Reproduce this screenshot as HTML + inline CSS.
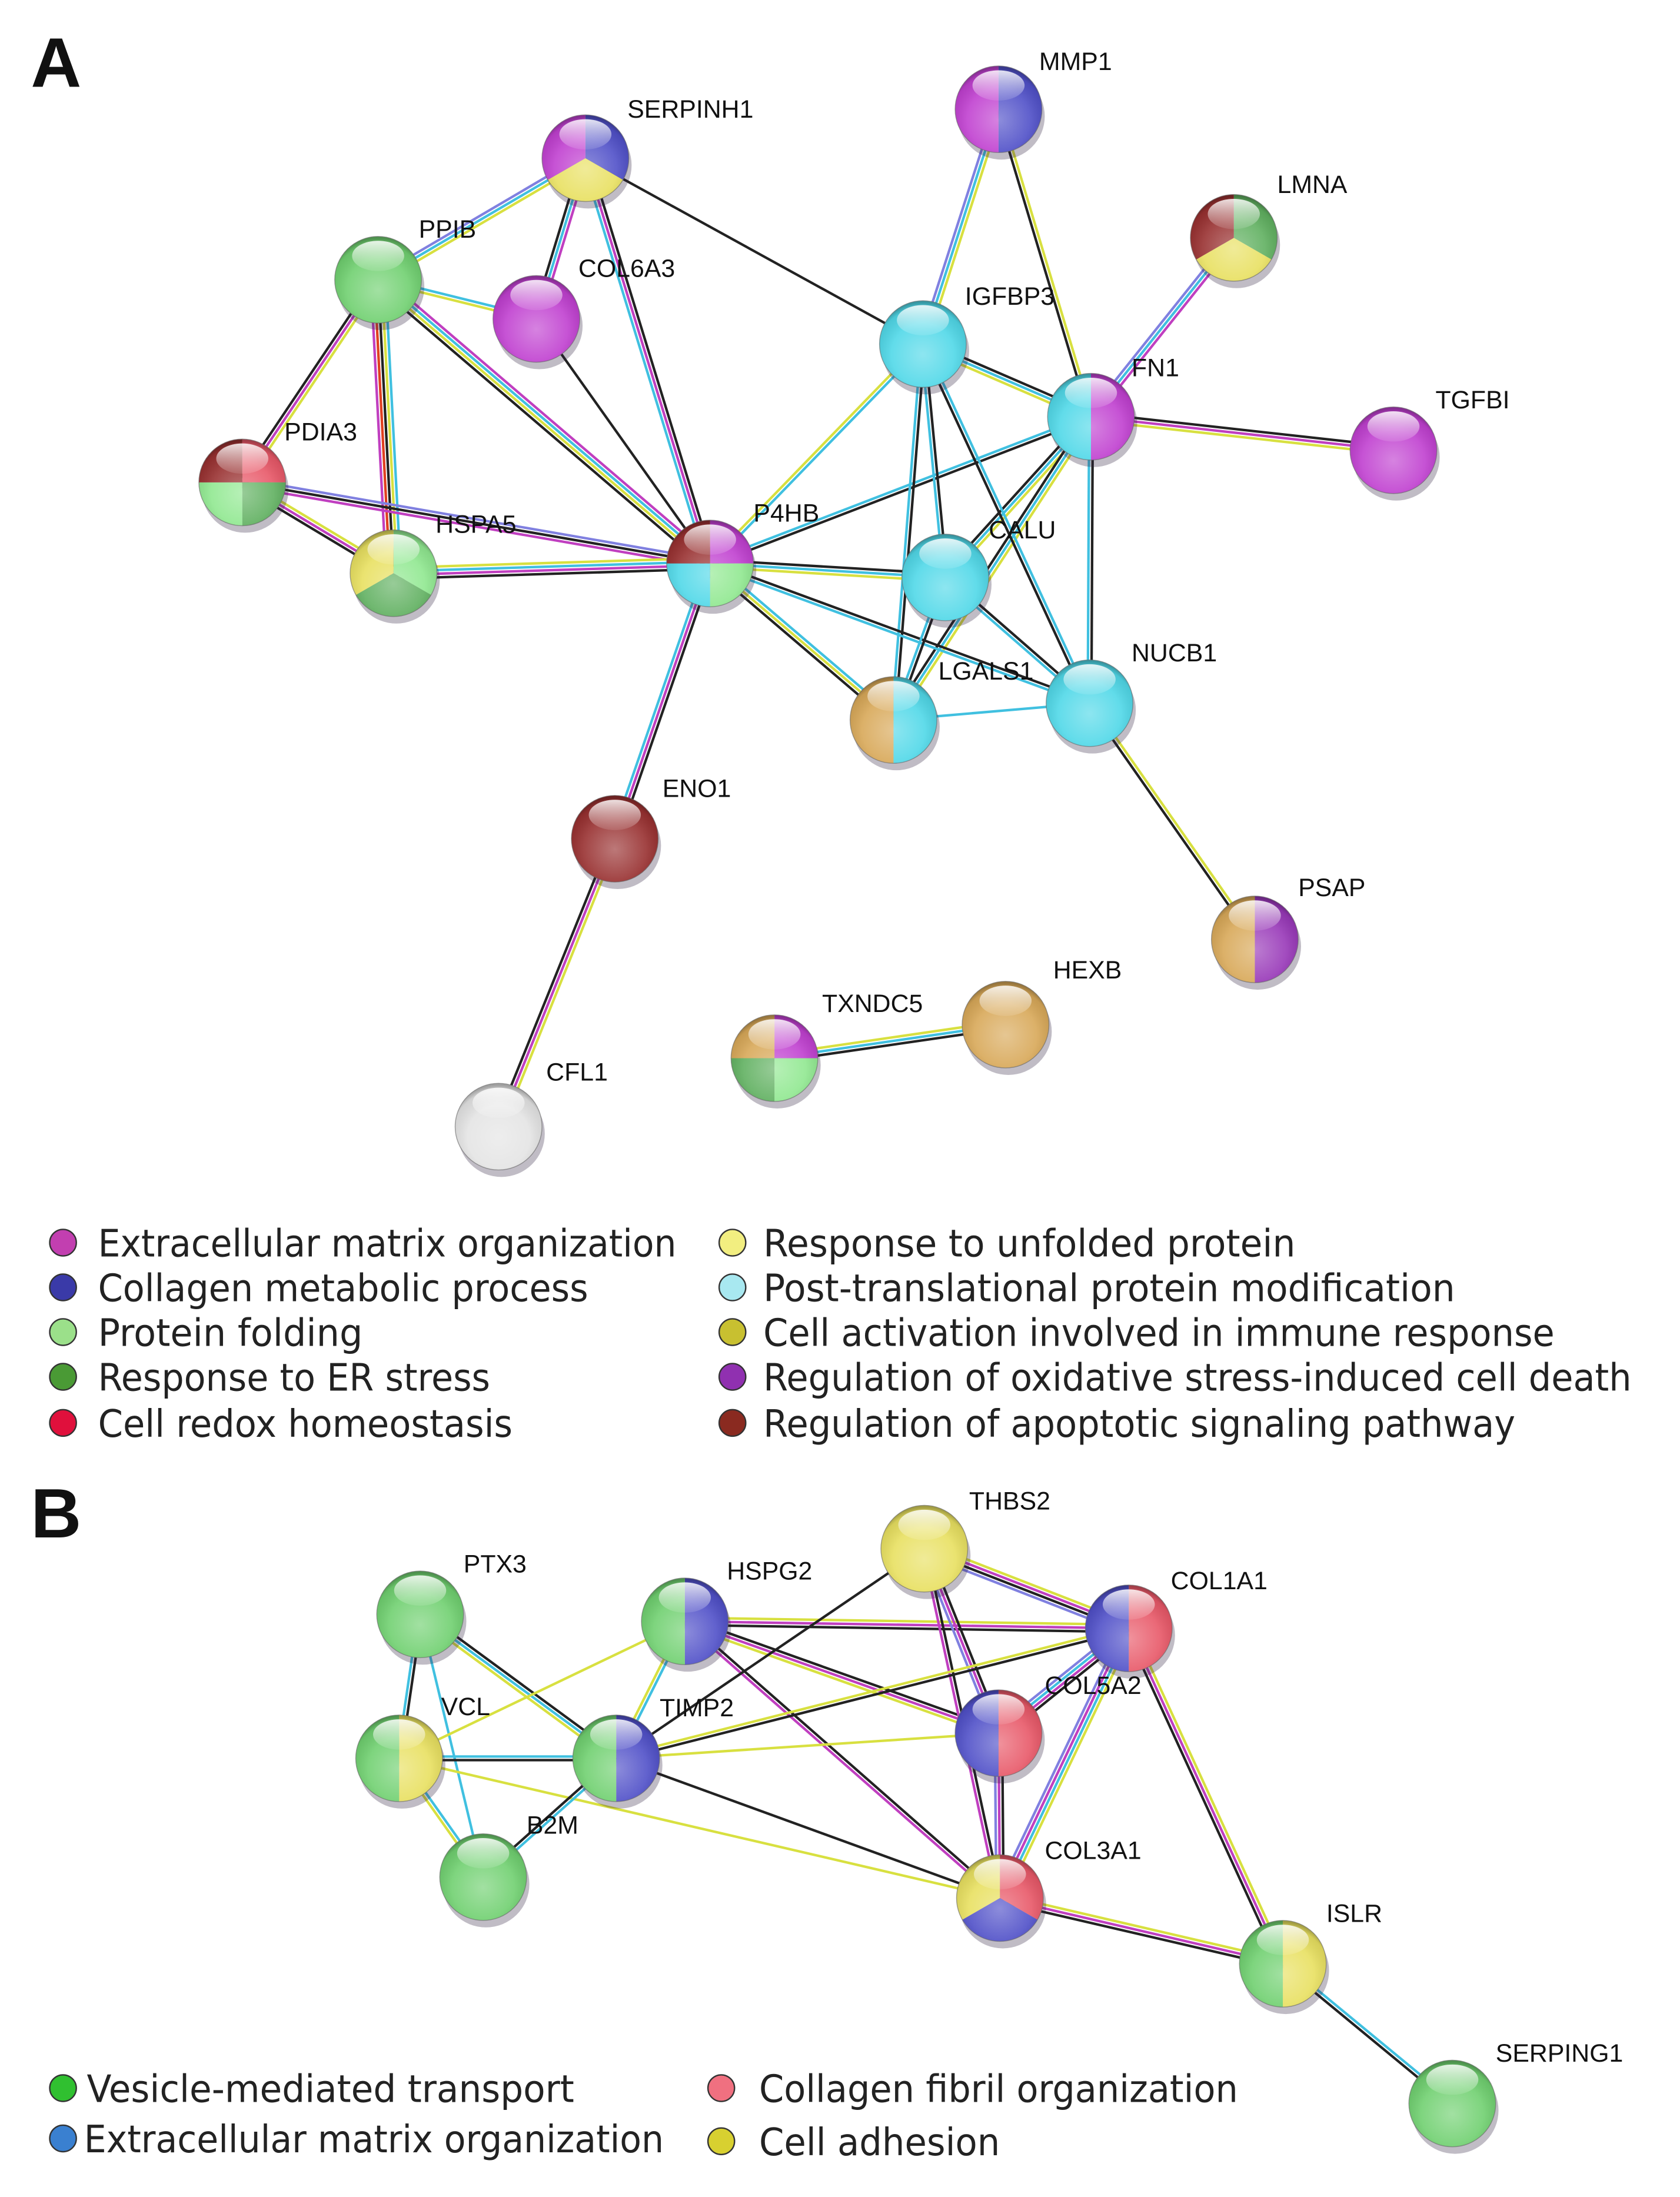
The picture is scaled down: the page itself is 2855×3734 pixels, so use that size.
<!DOCTYPE html>
<html><head><meta charset="utf-8">
<style>html,body{margin:0;padding:0;background:#fff;}svg{display:block}</style>
</head><body>
<svg id="s" xmlns="http://www.w3.org/2000/svg" width="2855" height="3734" viewBox="0 0 1190 1556">
<defs>
<radialGradient id="hl" cx="0.5" cy="0.62" r="0.6">
<stop offset="0" stop-color="#fff" stop-opacity="0.35"/>
<stop offset="0.6" stop-color="#fff" stop-opacity="0.1"/>
<stop offset="0.9" stop-color="#000" stop-opacity="0.08"/>
<stop offset="1" stop-color="#000" stop-opacity="0.3"/>
</radialGradient>
<linearGradient id="gl" x1="0" y1="0" x2="0" y2="1">
<stop offset="0" stop-color="#fff" stop-opacity="0.85"/>
<stop offset="1" stop-color="#fff" stop-opacity="0.1"/>
</linearGradient>
</defs>
<rect width="1190" height="1556" fill="#fff"/>
<g transform="scale(0.992,0.99)">
<g id="edges"></g><g id="nodes"></g>
<g font-family="Liberation Sans, Arial, sans-serif" font-weight="bold" font-size="50" fill="#111">
<text x="22" y="62">A</text><text x="22" y="1100">B</text></g>
<g id="legend" font-family="DejaVu Sans, Liberation Sans, sans-serif" font-size="27" fill="#222"></g>
</g>
</svg>
<script>
const C={k:'#222',m:'#c03fc0',c:'#40c0e0',y:'#d8e040',b:'#8080e0',r:'#e04020',g:'#40a040'};
const F={mag:'#c040d0',blu:'#5050c8',yel:'#e8e060',lg:'#90e890',grn:'#60b060',red:'#e85868',dr:'#983030',cy:'#50d8e8',tan:'#d8a858',pur:'#9838b8',wh:'#e4e4e4',gr2:'#70d070'};
const N={
SERPINH1:[418,113,['blu','yel','mag'],448,84],MMP1:[713,78,['blu','mag'],742,50],LMNA:[881,170,['grn','yel','dr'],912,138],
PPIB:[270,200,['gr2'],299,170],COL6A3:[383,228,['mag'],413,198],IGFBP3:[659,246,['cy'],689,218],FN1:[779,298,['mag','cy'],808,269],
TGFBI:[995,322,['mag'],1025,292],PDIA3:[173,345,['red','grn','lg','dr'],203,315],HSPA5:[281,410,['lg','grn','yel'],311,381],
P4HB:[507,403,['mag','lg','cy','dr'],538,373],CALU:[675,413,['cy'],706,385],NUCB1:[778,503,['cy'],808,473],
LGALS1:[638,515,['cy','tan'],670,486],ENO1:[439,600,['dr'],473,570],PSAP:[896,672,['pur','tan'],927,641],
HEXB:[718,733,['tan'],752,700],TXNDC5:[553,757,['mag','lg','grn','tan'],587,724],CFL1:[356,806,['wh'],390,773],
PTX3:[300,1155,['gr2'],331,1125],HSPG2:[489,1160,['blu','gr2'],519,1130],THBS2:[660,1108,['yel'],692,1080],
COL1A1:[806,1165,['red','blu'],836,1137],COL5A2:[713,1240,['red','blu'],746,1212],VCL:[285,1258,['yel','gr2'],315,1227],
TIMP2:[440,1258,['blu','gr2'],471,1228],B2M:[345,1343,['gr2'],376,1312],COL3A1:[714,1358,['red','blu','yel'],746,1330],
ISLR:[916,1405,['yel','gr2'],947,1375],SERPING1:[1037,1505,['gr2'],1068,1475]};
const E=[
['SERPINH1','COL6A3','mck'],['SERPINH1','PPIB','ycb'],['SERPINH1','P4HB','kmc'],['SERPINH1','IGFBP3','k'],
['PPIB','COL6A3','cy'],['PPIB','PDIA3','ymk'],['PPIB','HSPA5','cykrm'],['PPIB','P4HB','mcyk'],['COL6A3','P4HB','k'],
['PDIA3','HSPA5','ymk'],['PDIA3','P4HB','bkm'],['HSPA5','P4HB','ycmk'],
['MMP1','IGFBP3','ycb'],['MMP1','FN1','yk'],['LMNA','FN1','mcb'],['FN1','TGFBI','kmy'],['FN1','IGFBP3','yck'],
['FN1','P4HB','kc'],['FN1','CALU','yck'],['FN1','NUCB1','kc'],['FN1','LGALS1','yck'],['IGFBP3','P4HB','cy'],
['IGFBP3','CALU','kc'],['IGFBP3','LGALS1','kc'],['IGFBP3','NUCB1','ck'],['P4HB','CALU','kcy'],['P4HB','LGALS1','cyk'],
['P4HB','NUCB1','kc'],['P4HB','ENO1','kmc'],['CALU','NUCB1','kc'],['CALU','LGALS1','kc'],['LGALS1','NUCB1','c'],
['NUCB1','PSAP','yk'],['ENO1','CFL1','ymk'],['TXNDC5','HEXB','yck'],
['PTX3','VCL','kc'],['PTX3','TIMP2','kcy'],['PTX3','B2M','c'],['HSPG2','TIMP2','cy'],['HSPG2','COL1A1','ymk'],
['HSPG2','COL5A2','kmy'],['HSPG2','COL3A1','km'],['HSPG2','VCL','y'],['THBS2','COL1A1','ymkb'],['THBS2','COL5A2','kmb'],
['THBS2','COL3A1','km'],['THBS2','TIMP2','k'],['COL1A1','COL5A2','kmcb'],['COL1A1','COL3A1','ycmb'],['COL1A1','ISLR','ymk'],
['COL1A1','TIMP2','ky'],['COL5A2','COL3A1','kmb'],['COL5A2','TIMP2','y'],['COL3A1','TIMP2','k'],['COL3A1','ISLR','ymk'],
['COL3A1','VCL','y'],['VCL','TIMP2','ck'],['VCL','B2M','cy'],['B2M','TIMP2','kc'],['ISLR','SERPING1','ck']];
const ns='http://www.w3.org/2000/svg';
function el(t,a,p){const e=document.createElementNS(ns,t);for(const k in a)e.setAttribute(k,a[k]);p.appendChild(e);return e;}
const eg=document.getElementById('edges'),ng=document.getElementById('nodes'),lg=document.getElementById('legend');
E.forEach(([a,b,cs])=>{const A=N[a],B=N[b];const dx=B[0]-A[0],dy=B[1]-A[1],L=Math.hypot(dx,dy);const px=-dy/L,py=dx/L;const n=cs.length;
for(let i=0;i<n;i++){const o=(i-(n-1)/2)*2.6;el('line',{x1:A[0]+px*o,y1:A[1]+py*o,x2:B[0]+px*o,y2:B[1]+py*o,stroke:C[cs[i]],'stroke-width':1.8},eg);}});
const R=31;
for(const k in N){const [x,y,cols,lx,ly]=N[k];const g=el('g',{},ng);
el('circle',{cx:x+2,cy:y+5,r:R,fill:'#302040',opacity:0.3},g);
if(cols.length==1)el('circle',{cx:x,cy:y,r:R,fill:F[cols[0]]},g);
else{const n=cols.length;for(let i=0;i<n;i++){const a0=-Math.PI/2+i*2*Math.PI/n,a1=a0+2*Math.PI/n;
el('path',{d:`M${x},${y}L${x+R*Math.cos(a0)},${y+R*Math.sin(a0)}A${R},${R} 0 0 1 ${x+R*Math.cos(a1)},${y+R*Math.sin(a1)}Z`,fill:F[cols[i]]},g);}}
el('circle',{cx:x,cy:y,r:R,fill:'url(#hl)'},g);
el('ellipse',{cx:x,cy:y-R*0.55,rx:R*0.6,ry:R*0.35,fill:'url(#gl)'},g);
el('circle',{cx:x,cy:y,r:R,fill:'none',stroke:'#666','stroke-width':0.6,opacity:0.6},g);
const t=el('text',{x:lx,y:ly,'font-family':'Liberation Sans, Arial, sans-serif','font-size':18,fill:'#111'},ng);t.textContent=k;}
const LG=[
[45,70,889,'#c23fb0','Extracellular matrix organization',413],[45,70,921,'#3a3aa8','Collagen metabolic process',350],
[45,70,953,'#9be08a','Protein folding',189],[45,70,985,'#4a9a35','Response to ER stress',280],[45,70,1018,'#e0103c','Cell redox homeostasis',296],
[523,545,889,'#f2ee80','Response to unfolded protein',380],[523,545,921,'#a8e8f0','Post-translational protein modification',494],
[523,545,953,'#c8c030','Cell activation involved in immune response',565],[523,545,985,'#9030b0','Regulation of oxidative stress-induced cell death',620],
[523,545,1018,'#8a2a20','Regulation of apoptotic signaling pathway',537],
[45,62,1494,'#30c030','Vesicle-mediated transport',348],[45,60,1530,'#3a80d0','Extracellular matrix organization',414],
[515,542,1494,'#f07080','Collagen fibril organization',342],[515,542,1532,'#d8d030','Cell adhesion',172]];
LG.forEach(([cx,tx,y,c,s,w])=>{el('circle',{cx:cx,cy:y,r:9.5,fill:c,stroke:'#333','stroke-width':1},lg);
const t=el('text',{x:tx,y:y+10,textLength:w,lengthAdjust:'spacingAndGlyphs'},lg);t.textContent=s;});
</script>
</body></html>
